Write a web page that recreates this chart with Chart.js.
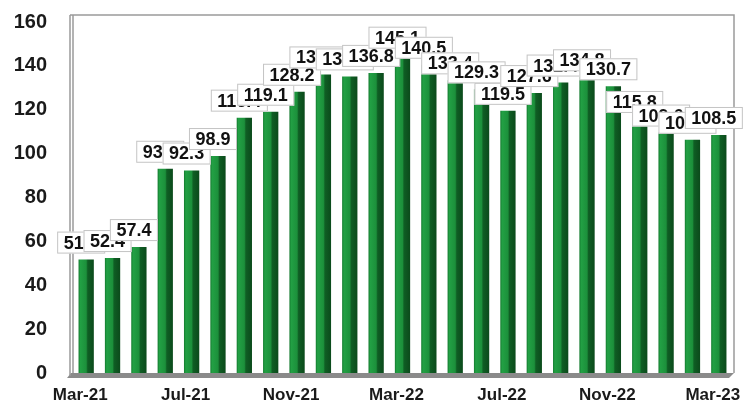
<!DOCTYPE html>
<html>
<head>
<meta charset="utf-8">
<script src="https://cdn.jsdelivr.net/npm/chart.js@4.4.1/dist/chart.umd.min.js"></script>
<style>
  html, body { margin: 0; padding: 0; background: #ffffff; }
  #wrap { width: 747px; height: 406px; position: relative; }
</style>
</head>
<body>
<div id="wrap"><canvas id="c" width="747" height="406"></canvas></div>
<script>
const months = ["Mar-21","Apr-21","May-21","Jun-21","Jul-21","Aug-21","Sep-21","Oct-21","Nov-21","Dec-21","Jan-22","Feb-22","Mar-22","Apr-22","May-22","Jun-22","Jul-22","Aug-22","Sep-22","Oct-22","Nov-22","Dec-22","Jan-23","Feb-23","Mar-23"];
const values = [51.7, 52.4, 57.4, 93.1, 92.3, 98.9, 116.4, 119.1, 128.2, 136.1, 135.2, 136.8, 145.1, 140.5, 133.4, 129.3, 119.5, 127.6, 132.4, 134.8, 130.7, 115.8, 109.6, 106.3, 108.5];
const yTicks = [0, 20, 40, 60, 80, 100, 120, 140, 160];

const FONT = '"Liberation Sans", Arial, sans-serif';

function barGradient(ctx) {
  const chart = ctx.chart;
  if (!chart.chartArea || ctx.dataIndex === undefined) return '#1b8b3a';
  const xs = chart.scales.x;
  const cx = xs.getPixelForValue(ctx.dataIndex);
  const w = xs.width / months.length * 0.58;
  const g = chart.ctx.createLinearGradient(cx - w / 2, 0, cx + w / 2, 0);
  g.addColorStop(0, '#137a2e');
  g.addColorStop(0.12, '#22a044');
  g.addColorStop(0.5, '#1c903b');
  g.addColorStop(0.6, '#0f5e24');
  g.addColorStop(1, '#0b4a1b');
  return g;
}

const framePlugin = {
  id: 'frame',
  beforeDatasetsDraw(chart) {
    const { ctx, chartArea: a } = chart;
    ctx.save();
    ctx.fillStyle = '#8a8a8a';
    ctx.beginPath();
    ctx.moveTo(a.left - 2, a.bottom);
    ctx.lineTo(a.right + 2, a.bottom);
    ctx.lineTo(a.right - 3, a.bottom + 5);
    ctx.lineTo(a.left - 6, a.bottom + 5);
    ctx.closePath();
    ctx.fill();
    ctx.strokeStyle = '#9a9a9a';
    ctx.lineWidth = 1.5;
    ctx.beginPath();
    ctx.moveTo(a.left - 3, a.top - 7);
    ctx.lineTo(a.right + 2, a.top - 7);
    ctx.lineTo(a.right + 2, a.bottom);
    ctx.stroke();
    ctx.beginPath();
    ctx.moveTo(a.left - 3, a.top - 7);
    ctx.lineTo(a.left - 3, a.bottom + 3);
    ctx.stroke();
    ctx.beginPath();
    ctx.moveTo(a.left, a.top - 7);
    ctx.lineTo(a.left, a.bottom);
    ctx.stroke();
    ctx.restore();
  }
};

const labelPlugin = {
  id: 'boxLabels',
  afterDatasetsDraw(chart) {
    const { ctx } = chart;
    const meta = chart.getDatasetMeta(0);
    ctx.save();
    ctx.font = 'bold 18px ' + FONT;
    ctx.textAlign = 'center';
    ctx.textBaseline = 'middle';
    meta.data.forEach((bar, i) => {
      const txt = values[i].toFixed(1);
      const tw = ctx.measureText(txt).width;
      const bw = tw + 13, bh = 22;
      const cx = bar.x - 5;
      const bottom = bar.y - 6;
      const x0 = cx - bw / 2, y0 = bottom - bh;
      ctx.fillStyle = '#ffffff';
      ctx.fillRect(x0, y0, bw, bh);
      ctx.strokeStyle = '#c4c4c4';
      ctx.lineWidth = 1;
      ctx.strokeRect(x0 + 0.5, y0 + 0.5, bw - 1, bh - 1);
      ctx.fillStyle = '#111111';
      ctx.fillText(txt, cx, y0 + bh / 2 + 1);
    });
    ctx.restore();
  }
};

new Chart(document.getElementById('c'), {
  type: 'bar',
  data: {
    labels: months,
    datasets: [{
      data: values,
      backgroundColor: barGradient,
      borderWidth: 0,
      barPercentage: 0.58,
      categoryPercentage: 1.0
    }]
  },
  options: {
    responsive: false,
    animation: false,
    devicePixelRatio: 1,
    layout: { padding: { top: 22, right: 15, bottom: 0, left: 0 } },
    plugins: { legend: { display: false }, tooltip: { enabled: false } },
    scales: {
      x: {
        afterFit: (s) => { s.height = 33; s.paddingLeft = 0; s.paddingRight = 0; },
        grid: { display: false, drawTicks: false },
        border: { display: false },
        ticks: {
          autoSkip: false,
          maxRotation: 0,
          minRotation: 0,
          padding: 12,
          labelOffset: -6,
          color: '#1a1a1a',
          font: { family: FONT, size: 17, weight: 'bold' },
          callback: function (v, i) { return i % 4 === 0 ? months[i] : ''; }
        }
      },
      y: {
        min: 0,
        max: 160,
        afterBuildTicks: (s) => { s.ticks = yTicks.map(v => ({ value: v })); },
        afterFit: (s) => { s.width = 73; s.paddingTop = 0; s.paddingBottom = 0; },
        grid: { display: false, drawTicks: false },
        border: { display: false },
        ticks: {
          padding: 26,
          color: '#1a1a1a',
          font: { family: FONT, size: 20, weight: 'bold' }
        }
      }
    }
  },
  plugins: [framePlugin, labelPlugin]
});
</script>
</body>
</html>
